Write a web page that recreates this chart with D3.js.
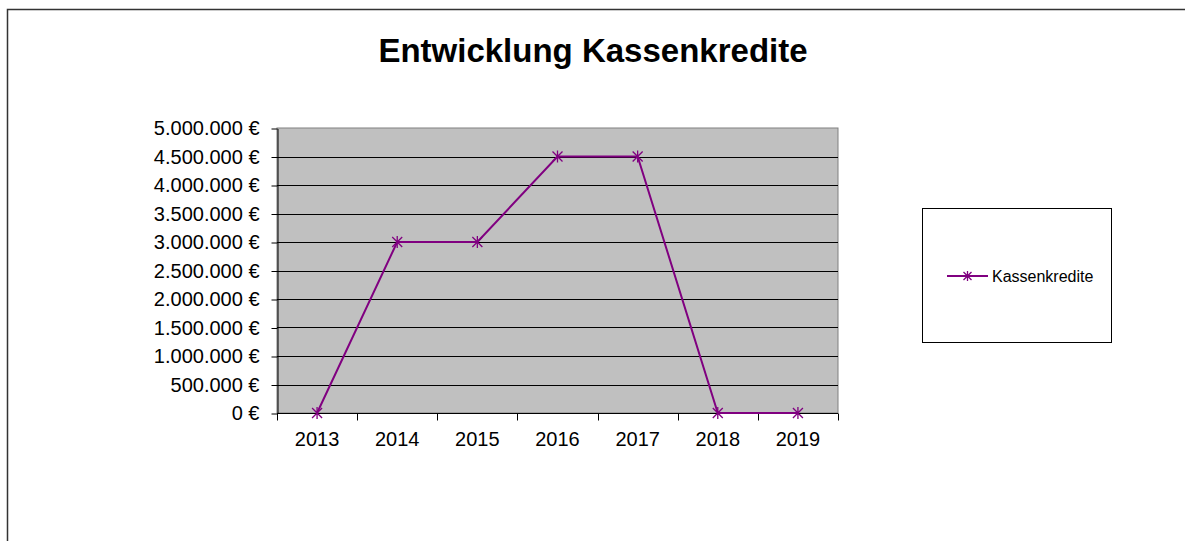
<!DOCTYPE html>
<html>
<head>
<meta charset="utf-8">
<script src="https://cdn.jsdelivr.net/npm/d3@7"></script>
<style>
  body { margin: 0; background: #fff; }
  text { font-family: "Liberation Sans", Arial, sans-serif; }
</style>
</head>
<body>
<div id="chart"></div>
<script>
const YEARS = ['2013', '2014', '2015', '2016', '2017', '2018', '2019'];
const KASSENKREDITE = [0, 3000000, 3000000, 4500000, 4500000, 0, 0];
const Y_TICKS = [0, 500000, 1000000, 1500000, 2000000, 2500000, 3000000, 3500000, 4000000, 4500000, 5000000];
const SERIES_NAME = 'Kassenkredite';
const TITLE = 'Entwicklung Kassenkredite';

const W = 1185, H = 541;
const plot = {left: 277, top: 128, right: 838, bottom: 413};
const purple = '#800080';

const svg = d3.select('#chart').append('svg')
  .attr('width', W).attr('height', H);

// chart frame (only left and top edges visible in the picture)
svg.append('path')
  .attr('d', 'M7.5,' + H + ' V9.5 H' + W)
  .attr('fill', 'none').attr('stroke', '#333').attr('stroke-width', 1.5);

svg.append('text')
  .attr('x', 593).attr('y', 62)
  .attr('text-anchor', 'middle')
  .style('font-size', '33px').style('font-weight', 'bold')
  .text(TITLE);

const x = d3.scaleBand().domain(YEARS).range([plot.left, plot.right]);
const y = d3.scaleLinear().domain([0, 5000000]).range([plot.bottom, plot.top]);

const fmt = d => d3.format(',')(d).replace(/,/g, '.') + ' €';

// plot background
svg.append('rect')
  .attr('x', plot.left).attr('y', plot.top)
  .attr('width', plot.right - plot.left).attr('height', plot.bottom - plot.top)
  .attr('fill', '#c0c0c0').attr('stroke', '#808080');

// gridlines
svg.selectAll('.grid')
  .data(Y_TICKS.filter(d => d > 0 && d < 5000000))
  .enter().append('line')
  .attr('x1', plot.left).attr('x2', plot.right)
  .attr('y1', d => Math.round(y(d)) + 0.5).attr('y2', d => Math.round(y(d)) + 0.5)
  .attr('stroke', '#000').attr('stroke-width', 1);

// y axis
const yAxis = svg.append('g')
  .attr('transform', 'translate(' + (plot.left + 0.5) + ',0.5)')
  .call(d3.axisLeft(y).tickValues(Y_TICKS).tickFormat(fmt).tickSize(6).tickSizeOuter(0));
yAxis.select('.domain').attr('stroke', '#000');
yAxis.selectAll('.tick line').attr('stroke', '#000');
yAxis.selectAll('.tick text')
  .attr('x', -18)
  .style('font-size', '20px').style('font-family', '"Liberation Sans", Arial, sans-serif')
  .attr('fill', '#000');

// x axis with ticks between categories
const xAxis = svg.append('g')
  .attr('transform', 'translate(0,' + (plot.bottom + 0.5) + ')');
xAxis.append('line')
  .attr('x1', plot.left).attr('x2', plot.right)
  .attr('stroke', '#000');
const bounds = YEARS.map(d => x(d)).concat([x(YEARS[YEARS.length - 1]) + x.bandwidth()]);
xAxis.selectAll('.xt')
  .data(bounds)
  .enter().append('line')
  .attr('x1', d => Math.round(d) + 0.5).attr('x2', d => Math.round(d) + 0.5)
  .attr('y1', 0).attr('y2', 7)
  .attr('stroke', '#000');
xAxis.selectAll('.xl')
  .data(YEARS)
  .enter().append('text')
  .attr('x', d => x(d) + x.bandwidth() / 2)
  .attr('y', 32)
  .attr('text-anchor', 'middle')
  .style('font-size', '20px')
  .text(d => d);

// line
const line = d3.line()
  .x((d, i) => x(YEARS[i]) + x.bandwidth() / 2)
  .y(d => y(d));
svg.append('path')
  .datum(KASSENKREDITE)
  .attr('d', line)
  .attr('fill', 'none').attr('stroke', purple).attr('stroke-width', 2);

function star(g, cx, cy, r) {
  g.append('path')
    .attr('d', 'M' + (cx - r) + ',' + (cy - r) + 'L' + (cx + r) + ',' + (cy + r) +
               'M' + (cx - r) + ',' + (cy + r) + 'L' + (cx + r) + ',' + (cy - r) +
               'M' + cx + ',' + (cy - r - 1) + 'L' + cx + ',' + (cy + r + 1))
    .attr('stroke', purple).attr('stroke-width', 1.3).attr('fill', 'none');
}

const markers = svg.append('g');
KASSENKREDITE.forEach((v, i) => {
  star(markers, x(YEARS[i]) + x.bandwidth() / 2, y(v), 5);
});

// legend
const lg = svg.append('g');
lg.append('rect')
  .attr('x', 922.5).attr('y', 208.5).attr('width', 189).attr('height', 134)
  .attr('fill', '#fff').attr('stroke', '#000');
lg.append('line')
  .attr('x1', 947).attr('x2', 988).attr('y1', 276).attr('y2', 276)
  .attr('stroke', purple).attr('stroke-width', 2);
star(lg, 967.5, 276, 4);
lg.append('text')
  .attr('x', 992).attr('y', 282)
  .style('font-size', '16px')
  .text(SERIES_NAME);
</script>
</body>
</html>
